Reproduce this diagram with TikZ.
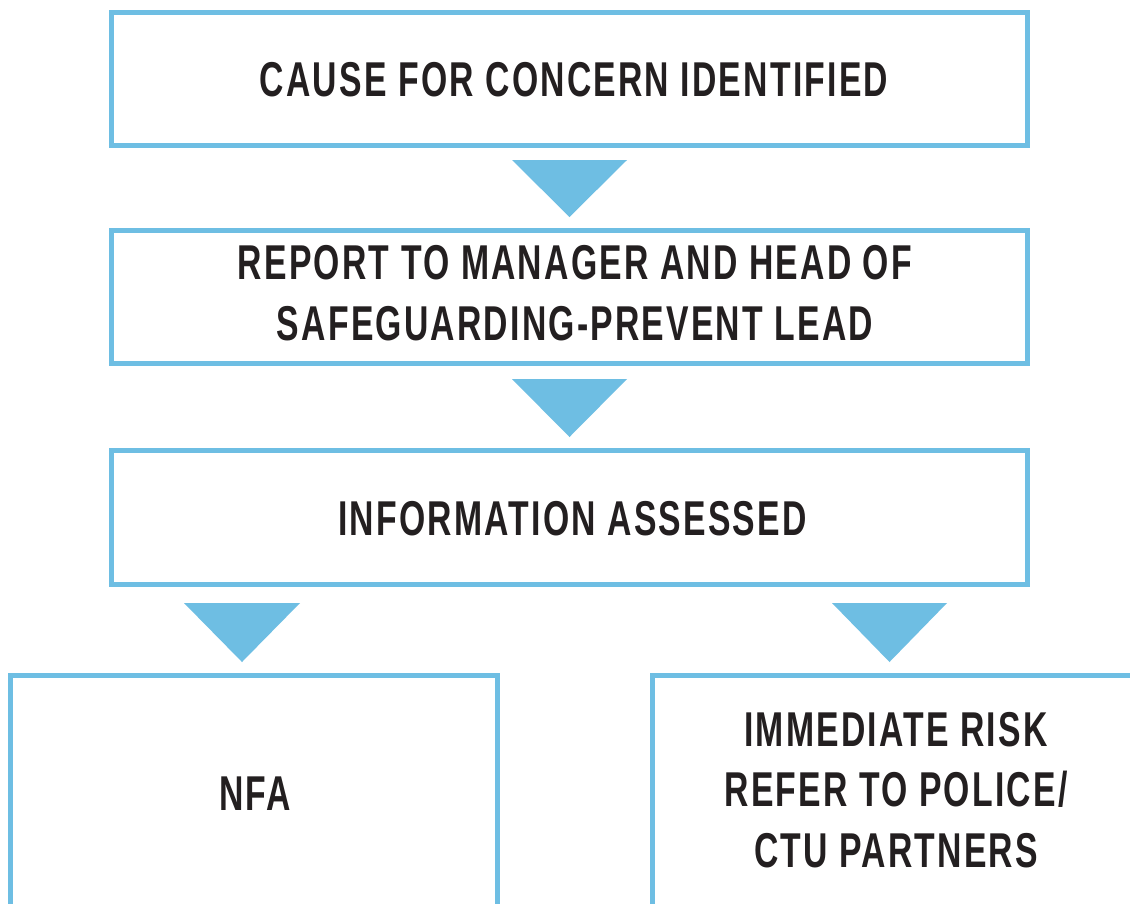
\documentclass[tikz,border=0pt]{standalone}
\usepackage{fontspec}
\newfontfamily\flowfont{Liberation Sans}[FakeStretch=0.69,LetterSpace=4.5]
\usetikzlibrary{calc}
\definecolor{flowblue}{HTML}{6EBEE3}
\definecolor{flowtext}{HTML}{231F20}
\begin{document}
\begin{tikzpicture}[x=1pt,y=-1pt,
  flowbox/.style={draw=flowblue, line width=5pt, rectangle, inner sep=0pt, outer sep=0pt},
  lbl/.style={inner sep=0pt, outer sep=0pt, align=center, text=flowtext,
    font=\flowfont\bfseries\fontsize{48.9}{60.5}\selectfont},
  tri/.style={fill=flowblue, draw=none}]
\useasboundingbox (0,0) rectangle (1130,903);
\clip (0,0) rectangle (1130,903);
\fill[white] (0,0) rectangle (1130,903);
% boxes
\node[flowbox, minimum width=916.5pt, minimum height=133pt] (b1) at (569.25,79) {};
\node[flowbox, minimum width=916.5pt, minimum height=133pt] (b2) at (569.25,297) {};
\node[flowbox, minimum width=916.5pt, minimum height=134pt] (b3) at (569.25,517.5) {};
\node[flowbox, minimum width=487pt, minimum height=254.5pt] (b4) at (254,802.75) {};
\node[flowbox, minimum width=488pt, minimum height=254.5pt] (b5) at (896,802.75) {};
% labels
\node[lbl] (t1) at (574,79.5) {CAUSE FOR CONCERN IDENTIFIED};
\node[lbl] (t2) at (575,293) {REPORT TO MANAGER AND HEAD OF\\SAFEGUARDING-PREVENT LEAD};
\node[lbl] (t3) at (572.5,518.5) {INFORMATION ASSESSED};
\node[lbl] (t4) at (255,793.5) {NFA};
\node[lbl] (t5) at (896,790) {IMMEDIATE RISK\\REFER TO POLICE/\\CTU PARTNERS};
% arrow triangles
\path[tri] (512,160) -- (627,160) -- (569.5,217) -- cycle;
\path[tri] (512,379) -- (627,379) -- (569.5,437) -- cycle;
\path[tri] (184,603) -- (300,603) -- (242,662) -- cycle;
\path[tri] (832,603) -- (947,603) -- (889.5,662) -- cycle;
\end{tikzpicture}
\end{document}
